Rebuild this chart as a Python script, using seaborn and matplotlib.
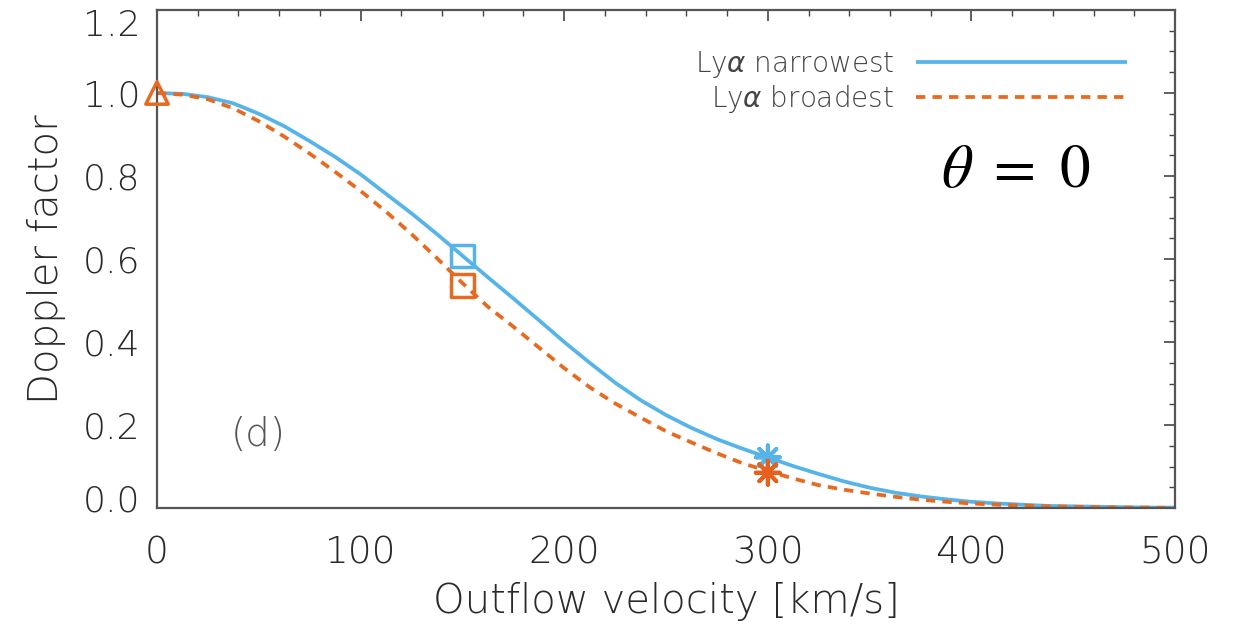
import numpy as np
import pandas as pd
import matplotlib
matplotlib.use("Agg")
import matplotlib.pyplot as plt
import matplotlib.transforms as mtransforms
import seaborn as sns
from matplotlib.ticker import MultipleLocator

# ---- data ----
velocity = [0, 12.5, 25, 37.5, 50, 62.5, 75, 87.5, 100, 112.5, 125, 137.5,
            150, 162.5, 175, 187.5, 200, 212.5, 225, 237.5, 250, 262.5, 275,
            287.5, 300, 312.5, 325, 337.5, 350, 362.5, 375, 387.5, 400, 412.5,
            425, 437.5, 450, 462.5, 475, 487.5, 500]
narrowest = [1.000, 0.998, 0.990, 0.975, 0.950, 0.920, 0.884, 0.846, 0.804,
             0.757, 0.710, 0.660, 0.608, 0.556, 0.505, 0.453, 0.400, 0.350,
             0.302, 0.260, 0.224, 0.193, 0.166, 0.143, 0.122, 0.101, 0.082,
             0.064, 0.049, 0.037, 0.028, 0.021, 0.015, 0.011, 0.008, 0.005,
             0.004, 0.003, 0.002, 0.001, 0.001]
broadest = [1.000, 0.996, 0.985, 0.963, 0.932, 0.895, 0.854, 0.810, 0.764,
            0.714, 0.660, 0.602, 0.542, 0.485, 0.437, 0.387, 0.337, 0.291,
            0.252, 0.218, 0.185, 0.158, 0.132, 0.108, 0.089, 0.071, 0.055,
            0.044, 0.035, 0.027, 0.020, 0.015, 0.011, 0.008, 0.006, 0.004,
            0.003, 0.002, 0.001, 0.001, 0.000]
series_names = ["Ly$\\alpha$ narrowest", "Ly$\\alpha$ broadest"]

tri_v, tri_val = [0], [1.0]
sq_v = [150, 150]
sq_val = [0.607, 0.536]
ast_v = [300, 300]
ast_val = [0.122, 0.085]

x_ticks = [0, 100, 200, 300, 400, 500]
y_ticks = [0.0, 0.2, 0.4, 0.6, 0.8, 1.0, 1.2]

BLUE = "#56B4E9"
ORANGE = "#E66B21"
TXT = "#2a2a2a"

sns.set_theme(style="white")
plt.rcParams["font.family"] = ["DejaVu Sans"]
plt.rcParams["font.weight"] = "light"
plt.rcParams["axes.labelweight"] = "light"
plt.rcParams["mathtext.fontset"] = "dejavusans"

df = pd.DataFrame({
    "velocity": velocity * 2,
    "factor": narrowest + broadest,
    "series": [series_names[0]] * len(velocity) + [series_names[1]] * len(velocity),
})

fig = plt.figure(figsize=(12.36, 6.29), dpi=100)
ax = fig.add_axes([157 / 1236, 1 - 508 / 629, (1175 - 157) / 1236, (508 - 10) / 629])

sns.lineplot(data=df, x="velocity", y="factor", hue="series", style="series",
             palette=[BLUE, ORANGE], dashes=[(1, 0), (2.5, 1.9)],
             linewidth=2.7, ax=ax, legend=True, sort=False)

# markers
ax.scatter(tri_v, tri_val, marker="^", s=260, facecolors="none",
           edgecolors=ORANGE, linewidths=2.5, zorder=5, clip_on=False)
ax.scatter(sq_v, sq_val, marker="s", s=260, facecolors="none",
           edgecolors=[BLUE, ORANGE], linewidths=2.5, zorder=5)
ax.scatter(ast_v, ast_val, marker=(8, 2, 0), s=300,
           color=[BLUE, "#E8601C"], linewidths=2.8, zorder=5)

ax.set_xlim(0, 500)
ax.set_ylim(0, 1.2)
ax.set_xticks(x_ticks)
ax.set_yticks(y_ticks)
ax.set_xticklabels([str(t) for t in x_ticks])
ax.set_yticklabels([f"{t:.1f}" for t in y_ticks])
ax.xaxis.set_minor_locator(MultipleLocator(20))
ax.yaxis.set_minor_locator(MultipleLocator(0.05))
ax.tick_params(which="both", direction="in", top=True, right=True,
               color="#444444", labelcolor=TXT, labelsize=26)
ax.tick_params(axis="x", labelsize=27)
ax.tick_params(which="major", length=8, width=1.2)
ax.tick_params(which="minor", length=4, width=1.0)
ax.tick_params(axis="x", pad=20)
ax.tick_params(axis="y", pad=12)
for s in ax.spines.values():
    s.set_color("#555555")
    s.set_linewidth(1.6)

# nudge end labels inward like the reference
ylabels = ax.get_yticklabels()
ylabels[0].set_transform(ylabels[0].get_transform() +
                         mtransforms.ScaledTranslation(0, 10 / 100, fig.dpi_scale_trans))
ylabels[-1].set_transform(ylabels[-1].get_transform() +
                          mtransforms.ScaledTranslation(0, -13 / 100, fig.dpi_scale_trans))

ax.set_xlabel("Outflow velocity [km/s]", fontsize=29, color=TXT, labelpad=8)
ax.set_ylabel("Doppler factor", fontsize=29, color=TXT, labelpad=12)

leg = ax.legend(loc="upper right", bbox_to_anchor=(0.964, 0.945), frameon=False,
                markerfirst=False, handlelength=7.6, handletextpad=0.8,
                fontsize=20, labelspacing=0.12, borderaxespad=0)
for t in leg.get_texts():
    t.set_color("#444444")

ax.text(49.6, 0.176, "(d)", fontsize=28, color="#555555", ha="center", va="center")
ax.text(422, 0.814, "$\\theta\\ =\\ 0$", fontsize=44, color="black", ha="center",
        va="center", math_fontfamily="stix")

fig.savefig("out.png", dpi=100)
